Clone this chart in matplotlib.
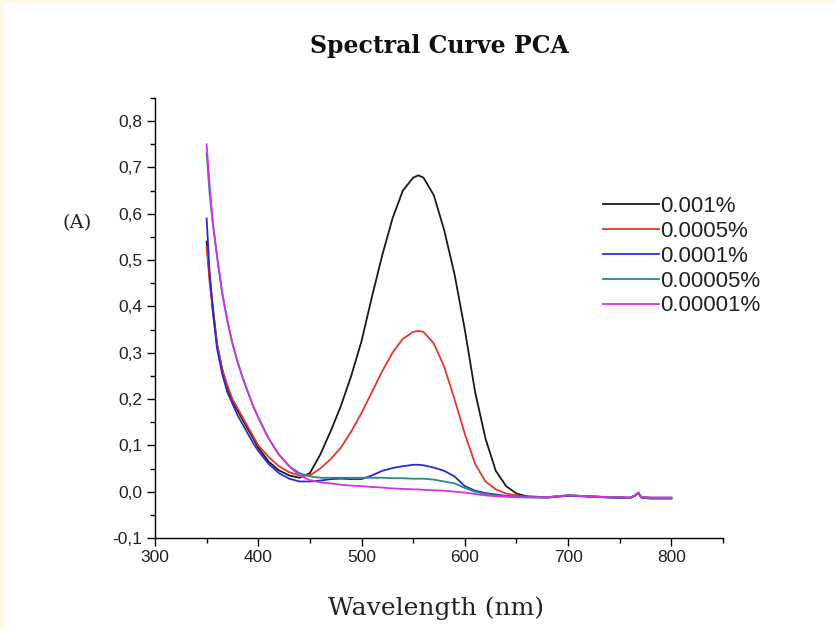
import matplotlib
matplotlib.use("Agg")
import matplotlib.pyplot as plt
from matplotlib.ticker import MultipleLocator, FuncFormatter
from matplotlib.patches import Rectangle

wavelength = [350, 353, 356, 360, 365, 370, 375, 380, 385, 390, 395, 400, 410, 420, 430,
              440, 450, 460, 470, 480, 490, 500, 510, 520, 530, 540, 550, 555, 560, 570,
              580, 590, 600, 610, 620, 630, 640, 650, 660, 680, 700, 720, 740, 760, 765,
              768, 771, 780, 800]

abs_0001 = [0.54, 0.46, 0.40, 0.32, 0.265, 0.225, 0.195, 0.175, 0.155, 0.135, 0.115, 0.095,
            0.065, 0.046, 0.035, 0.030, 0.040, 0.080, 0.130, 0.185, 0.250, 0.325, 0.420,
            0.510, 0.590, 0.650, 0.678, 0.683, 0.678, 0.640, 0.565, 0.470, 0.350, 0.215,
            0.115, 0.045, 0.012, -0.004, -0.010, -0.012, -0.008, -0.010, -0.012, -0.013,
            -0.008, -0.002, -0.012, -0.014, -0.014]
abs_00005 = [0.53, 0.45, 0.39, 0.32, 0.265, 0.230, 0.200, 0.180, 0.160, 0.140, 0.120, 0.100,
             0.075, 0.055, 0.042, 0.035, 0.035, 0.050, 0.070, 0.095, 0.130, 0.170, 0.215,
             0.260, 0.300, 0.330, 0.345, 0.347, 0.345, 0.320, 0.270, 0.200, 0.125, 0.060,
             0.022, 0.005, -0.004, -0.008, -0.011, -0.012, -0.008, -0.010, -0.012, -0.013,
             -0.008, -0.003, -0.012, -0.013, -0.013]
abs_00001 = [0.59, 0.47, 0.39, 0.31, 0.255, 0.215, 0.190, 0.165, 0.145, 0.125, 0.105, 0.088,
             0.060, 0.040, 0.028, 0.022, 0.022, 0.024, 0.027, 0.028, 0.027, 0.027, 0.035,
             0.045, 0.051, 0.055, 0.058, 0.058, 0.057, 0.052, 0.045, 0.033, 0.012, 0.002,
             -0.003, -0.006, -0.009, -0.011, -0.012, -0.013, -0.009, -0.011, -0.013, -0.014,
             -0.009, -0.003, -0.013, -0.015, -0.015]
abs_000005 = [0.73, 0.64, 0.58, 0.51, 0.43, 0.37, 0.32, 0.28, 0.245, 0.215, 0.185, 0.160,
              0.115, 0.080, 0.055, 0.040, 0.033, 0.030, 0.030, 0.030, 0.030, 0.030, 0.030,
              0.030, 0.029, 0.029, 0.028, 0.028, 0.028, 0.026, 0.022, 0.018, 0.008, 0.000,
              -0.005, -0.008, -0.010, -0.012, -0.012, -0.012, -0.008, -0.010, -0.012, -0.013,
              -0.008, -0.002, -0.012, -0.013, -0.013]
abs_000001 = [0.75, 0.66, 0.58, 0.51, 0.43, 0.37, 0.32, 0.28, 0.245, 0.215, 0.185, 0.160,
              0.115, 0.080, 0.055, 0.035, 0.025, 0.020, 0.018, 0.015, 0.013, 0.012, 0.010,
              0.009, 0.007, 0.006, 0.005, 0.005, 0.004, 0.003, 0.002, 0.000, -0.002, -0.005,
              -0.008, -0.010, -0.011, -0.012, -0.012, -0.012, -0.008, -0.010, -0.012, -0.013,
              -0.008, -0.002, -0.012, -0.013, -0.013]

labels = ["0.001%", "0.0005%", "0.0001%", "0.00005%", "0.00001%"]
colors = ["#1a1a1a", "#e8362c", "#2b2bd6", "#2a8a88", "#d133e6"]
series = [abs_0001, abs_00005, abs_00001, abs_000005, abs_000001]

fig = plt.figure(figsize=(8.36, 6.29), dpi=100)
fig.patch.set_facecolor("white")
# thin cream band along top and left edges
fig.add_artist(Rectangle((0, 1 - 4 / 629), 1, 4 / 629, transform=fig.transFigure,
                         facecolor="#fffbe6", edgecolor="none"))
fig.add_artist(Rectangle((0, 0), 3.5 / 836, 1, transform=fig.transFigure,
                         facecolor="#fffbe6", edgecolor="none"))

ax = fig.add_axes([0.1854, 0.1447, 0.6794, 0.6995])
for s, c, l in zip(series, colors, labels):
    ax.plot(wavelength, s, color=c, lw=1.3, label=l)

ax.set_xlim(300, 850)
ax.set_ylim(-0.1, 0.85)
ax.spines["top"].set_visible(False)
ax.spines["right"].set_visible(False)
for sp in ("left", "bottom"):
    ax.spines[sp].set_linewidth(1.0)

ax.xaxis.set_major_locator(MultipleLocator(100))
ax.xaxis.set_minor_locator(MultipleLocator(50))
ax.yaxis.set_major_locator(MultipleLocator(0.1))
ax.yaxis.set_minor_locator(MultipleLocator(0.05))
ax.xaxis.set_major_formatter(FuncFormatter(lambda v, p: "" if v > 800 else f"{v:.0f}"))
ax.yaxis.set_major_formatter(FuncFormatter(lambda v, p: "" if v > 0.81 else f"{v:.1f}".replace(".", ",")))
ax.tick_params(axis="both", which="major", direction="out", length=6, width=1,
               labelsize=12.5, labelcolor="#222222", pad=3)
ax.tick_params(axis="both", which="minor", direction="out", length=3.5, width=1)
for t in ax.get_xticklabels() + ax.get_yticklabels():
    t.set_fontfamily("Liberation Sans")

fig.text(0.526, 0.927, "Spectral Curve PCA", ha="center", va="center",
         fontsize=17, fontweight="bold", family="DejaVu Serif", color="#111111")
fig.text(0.522, 0.033, "Wavelength (nm)", ha="center", va="center",
         fontsize=18, family="DejaVu Serif", color="#222222")
fig.text(0.092, 0.645, "(A)", ha="center", va="center",
         fontsize=14, family="DejaVu Serif", color="#222222")

leg = ax.legend(loc="upper left", bbox_to_anchor=(0.7213, 0.688), bbox_transform=fig.transFigure,
                frameon=False, handlelength=2.5, handletextpad=0.05, labelspacing=0.17,
                borderaxespad=0, borderpad=0,
                prop={"family": "Liberation Sans", "size": 16})
for t in leg.get_texts():
    t.set_color("#222222")

fig.savefig("out.png", dpi=100, facecolor=fig.get_facecolor())
